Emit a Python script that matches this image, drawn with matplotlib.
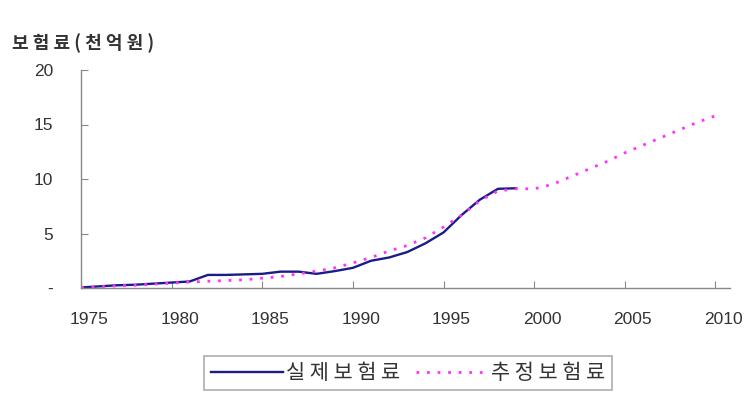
import matplotlib
matplotlib.use('Agg')
import matplotlib.pyplot as plt
import matplotlib.transforms as mtransforms

plt.rcParams['font.family'] = ['Liberation Sans', 'Noto Sans CJK KR', 'DejaVu Sans']

# actual premiums 1975-1999 (hundred billion won)
actual_years = list(range(1975, 2000))
actual_vals = [0.05, 0.15, 0.25, 0.3, 0.4, 0.5, 0.6, 1.2, 1.2, 1.25,
               1.3, 1.5, 1.5, 1.3, 1.55, 1.85, 2.5, 2.8, 3.3, 4.1,
               5.1, 6.7, 8.1, 9.1, 9.15]

# estimated premiums 1975-2010
est_years = list(range(1975, 2011))
est_vals = [0.05, 0.1, 0.2, 0.25, 0.35, 0.45, 0.55, 0.62, 0.68, 0.75,
            0.9, 1.05, 1.3, 1.55, 1.85, 2.3, 2.8, 3.4, 3.9, 4.6,
            5.6, 6.7, 8.0, 8.9, 9.1, 9.1, 9.5, 10.2, 10.9, 11.6,
            12.4, 13.1, 13.8, 14.5, 15.2, 15.8]

x_ticks = [1975, 1980, 1985, 1990, 1995, 2000, 2005, 2010]
y_ticks = [0, 5, 10, 15, 20]
y_ticklabels = ['-', '5', '10', '15', '20']

fig = plt.figure(figsize=(7.45, 4.0), dpi=100)
ax = fig.add_axes([81 / 745, 1 - 288 / 400, (730 - 81) / 745, (288 - 70) / 400])

ax.plot(actual_years, actual_vals, color='#1c1c88', lw=1.7,
        label='실 제 보 험 료')
ax.plot(est_years, est_vals, color='#ff33ff', lw=2.0,
        linestyle=(0, (1, 2.8)), label='추 정 보 험 료')

ax.set_xlim(1975, 2010.8)
ax.set_ylim(0, 20)
ax.set_xticks(x_ticks)
ax.set_yticks(y_ticks)
ax.set_yticklabels(y_ticklabels)

for s in ['top', 'right']:
    ax.spines[s].set_visible(False)
for s in ['left', 'bottom']:
    ax.spines[s].set_color('#888888')
    ax.spines[s].set_linewidth(1.0)

ax.tick_params(axis='both', direction='in', length=5, color='#888888',
               labelsize=12.5, labelcolor='#333333')
ax.tick_params(axis='x', pad=17)
ax.tick_params(axis='y', pad=20)

offset = mtransforms.ScaledTranslation(8 / 100, 0, fig.dpi_scale_trans)
for lab in ax.get_xticklabels():
    lab.set_transform(lab.get_transform() + offset)

fig.text(12 / 745, 1 - 43 / 400, '보 험 료 ( 천 억 원 )', fontsize=13,
         color='#333333', fontweight='bold', va='center', ha='left',
         family=['Noto Sans CJK KR', 'DejaVu Sans'])

leg = ax.legend(loc='center', bbox_to_anchor=(408 / 745, 1 - 373 / 400),
                bbox_transform=fig.transFigure, ncol=2, frameon=True,
                fancybox=False, edgecolor='#999999', handlelength=3.5,
                handletextpad=0.1, columnspacing=0.8, borderpad=0.3,
                prop={'family': ['Noto Sans CJK KR', 'DejaVu Sans'], 'size': 15})
leg.get_frame().set_linewidth(1.2)
for t in leg.get_texts():
    t.set_color('#333333')

fig.savefig('out.png', dpi=100)
